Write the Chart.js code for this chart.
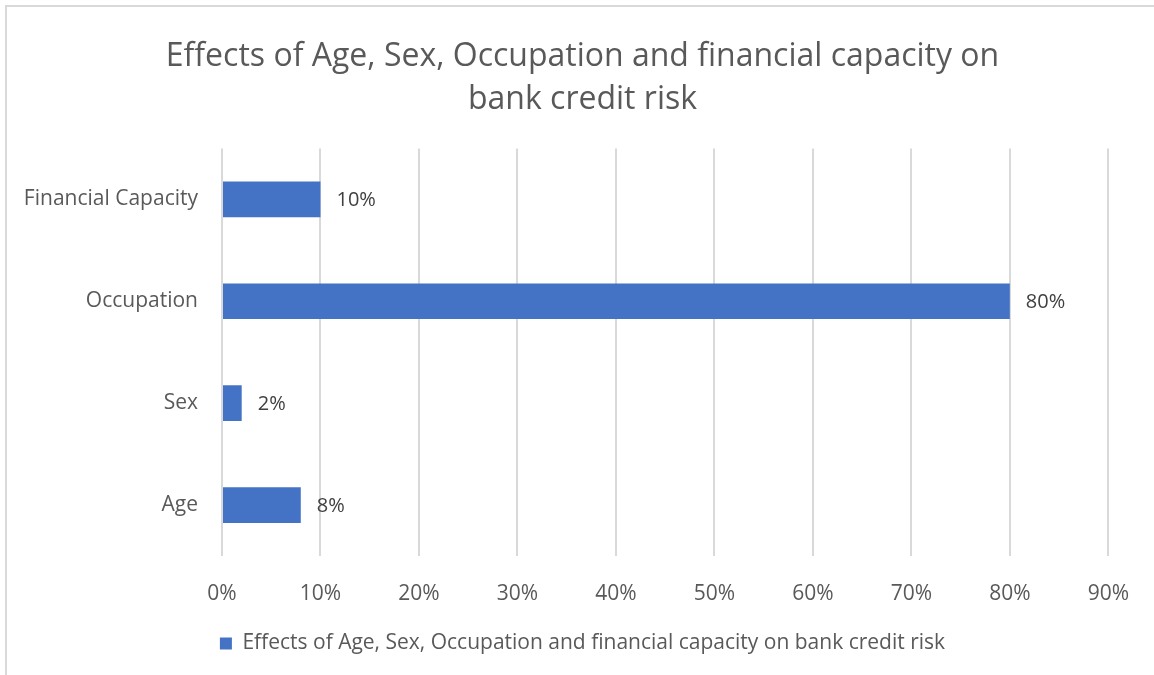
<!DOCTYPE html>
<html>
<head>
<meta charset="utf-8">
<script src="https://cdn.jsdelivr.net/npm/chart.js@4"></script>
<style>
  html, body { margin: 0; padding: 0; background: #fff; }
  #wrap { width: 1154px; height: 675px; position: relative; }
</style>
</head>
<body>
<div id="wrap"><canvas id="riskChart" width="1154" height="675"></canvas></div>
<script>
// ====== DATA ======
const categories = ['Financial Capacity', 'Occupation', 'Sex', 'Age'];
const riskValues = [0.10, 0.80, 0.02, 0.08];
const xTicks = [0, 0.1, 0.2, 0.3, 0.4, 0.5, 0.6, 0.7, 0.8, 0.9];
const seriesName = 'Effects of Age, Sex, Occupation and financial capacity on bank credit risk';
const titleLines = ['Effects of Age, Sex, Occupation and financial capacity on', 'bank credit risk'];

const FONT = '"Open Sans", Lato, sans-serif';
const pct = v => Math.round(v * 100) + '%';

// ====== PLUGINS ======
const framePlugin = {
    id: 'frame',
    beforeDraw(chart) {
        const ctx = chart.ctx;
        ctx.save();
        ctx.strokeStyle = '#d9d9d9';
        ctx.lineWidth = 2;
        ctx.beginPath();
        ctx.moveTo(6, 675);
        ctx.lineTo(6, 6);
        ctx.lineTo(1154, 6);
        ctx.stroke();
        ctx.restore();
    }
};

const valueLabels = {
    id: 'valueLabels',
    afterDatasetsDraw(chart) {
        const ctx = chart.ctx;
        const meta = chart.getDatasetMeta(0);
        ctx.save();
        ctx.font = '20px ' + FONT;
        ctx.fillStyle = '#404040';
        ctx.textAlign = 'left';
        ctx.textBaseline = 'middle';
        meta.data.forEach((bar, i) => {
            ctx.fillText(pct(riskValues[i]), bar.x + 16, bar.y + 1);
        });
        ctx.restore();
    }
};

// ====== CHART ======
const ctx = document.getElementById('riskChart').getContext('2d');
new Chart(ctx, {
    type: 'bar',
    data: {
        labels: categories,
        datasets: [{
            label: seriesName,
            data: riskValues,
            backgroundColor: '#4472C4',
            borderWidth: 0,
            barPercentage: 0.35,
            categoryPercentage: 1.0
        }]
    },
    options: {
        indexAxis: 'y',
        responsive: false,
        animation: false,
        devicePixelRatio: 1,
        layout: { padding: { left: 20, right: 9, top: 20, bottom: 11 } },
        plugins: {
            title: {
                display: true,
                text: titleLines,
                color: '#595959',
                font: { family: FONT, size: 32, weight: 'normal', lineHeight: 1.35 },
                padding: { top: 15, bottom: 27 }
            },
            legend: {
                position: 'bottom',
                labels: {
                    color: '#595959',
                    font: { family: FONT, size: 21 },
                    boxWidth: 12,
                    boxHeight: 12,
                    padding: 4
                }
            },
            tooltip: { enabled: false }
        },
        scales: {
            x: {
                min: 0,
                max: 0.9,
                afterBuildTicks: axis => { axis.ticks = xTicks.map(v => ({ value: v })); },
                afterFit: axis => { axis.height = 73; },
                ticks: {
                    callback: v => pct(v),
                    color: '#595959',
                    font: { family: FONT, size: 21 },
                    padding: 25
                },
                grid: { color: '#d9d9d9', lineWidth: 2, drawTicks: false },
                border: { display: false }
            },
            y: {
                afterFit: axis => { axis.width = 202; },
                ticks: {
                    color: '#595959',
                    font: { family: FONT, size: 21 },
                    padding: 24
                },
                grid: { display: false, drawTicks: false },
                border: { display: false }
            },
            // empty right-hand axis, only reserves space so title/legend sit where the reference has them
            yRight: {
                type: 'category',
                position: 'right',
                afterFit: axis => { axis.width = 36; },
                ticks: { display: false },
                grid: { display: false, drawTicks: false },
                border: { display: false }
            }
        }
    },
    plugins: [framePlugin, valueLabels]
});
</script>
</body>
</html>
